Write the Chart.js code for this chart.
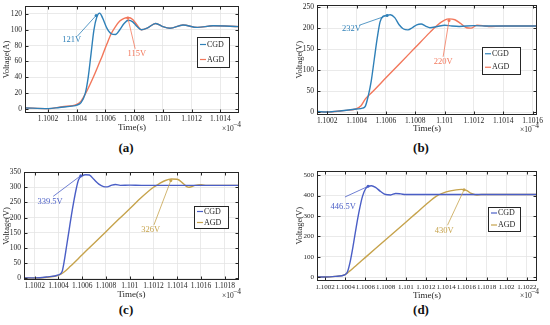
<!DOCTYPE html>
<html>
<head>
<meta charset="utf-8">
<script src="https://cdn.jsdelivr.net/npm/chart.js@4.4.0/dist/chart.umd.min.js"></script>
<style>
  body { margin: 0; background: #fff; width: 550px; height: 325px; position: relative; overflow: hidden; }
  canvas { position: absolute; }
  .tag { position: absolute; font: bold 13px "Liberation Serif", serif; color: #111; transform: translate(-50%, -50%); }
</style>
</head>
<body>
<canvas id="chartA" width="275" height="140" style="left:0;top:0"></canvas>
<canvas id="chartB" width="260" height="140" style="left:290px;top:0"></canvas>
<canvas id="chartC" width="275" height="140" style="left:0;top:162px"></canvas>
<canvas id="chartD" width="260" height="140" style="left:290px;top:162px"></canvas>
<div class="tag" style="left:126px;top:148px">(a)</div>
<div class="tag" style="left:421px;top:148px">(b)</div>
<div class="tag" style="left:126px;top:310px">(c)</div>
<div class="tag" style="left:421px;top:310px">(d)</div>
<script>
// ---- donnees (temps en 1e-4 s) ----
// (a)
const tCgdA = [1.10004, 1.1002, 1.10028, 1.10038, 1.1004, 1.10043, 1.10046, 1.10048, 1.1005, 1.10052, 1.10054, 1.10056, 1.10058, 1.10061, 1.10064, 1.10067, 1.1007, 1.10073, 1.10076, 1.10079, 1.10082, 1.10085, 1.10089, 1.10095, 1.101, 1.10105, 1.10114, 1.10124, 1.10135, 1.10153];
const vCgdA = [1.5, 0.5, 2, 4, 5, 8, 20, 40, 70, 100, 116, 121, 115, 102, 95, 94, 100, 108, 112, 110, 104, 100, 102, 108, 104, 102, 106, 103, 105, 104];
const tAgdA = [1.10004, 1.1002, 1.1003, 1.1004, 1.10043, 1.10046, 1.10049, 1.10052, 1.10055, 1.10058, 1.10061, 1.10064, 1.10067, 1.1007, 1.10073, 1.10076, 1.10079, 1.10082, 1.10085, 1.10089, 1.10095, 1.101, 1.10105, 1.10114, 1.10124, 1.10135, 1.10153];
const vAgdA = [1.5, 0.5, 3, 6, 10, 19, 30, 42, 55, 68, 82, 95, 104, 111, 114.5, 115.5, 113, 106, 100, 102, 108, 104, 102, 106, 103, 105, 104];
// (b)
const tCgdB = [1.10013, 1.1002, 1.1003, 1.1004, 1.10044, 1.10046, 1.10048, 1.1005, 1.10052, 1.10054, 1.10056, 1.10058, 1.1006, 1.10063, 1.10066, 1.10069, 1.10072, 1.10075, 1.10078, 1.10081, 1.10084, 1.10087, 1.1009, 1.10095, 1.101, 1.10105, 1.1011, 1.1012, 1.1013, 1.10163];
const vCgdB = [2, 1, 4, 8, 10, 15, 40, 75, 125, 175, 215, 228, 230, 232, 225, 208, 198, 196, 201, 208, 210, 205, 201, 204, 207, 205, 204, 206, 205, 205];
const tAgdB = [1.10013, 1.1002, 1.1003, 1.1004, 1.10043, 1.10046, 1.1005, 1.1006, 1.1007, 1.1008, 1.1009, 1.10095, 1.101, 1.10103, 1.10107, 1.10111, 1.10115, 1.10118, 1.10122, 1.10126, 1.1013, 1.1014, 1.10163];
const vAgdB = [2, 1, 4, 9, 16, 32, 46, 82, 118, 154, 190, 207, 219, 222, 220, 211, 201, 200, 207, 206, 204, 205, 205];
// (c)
const tCgdC = [1.10011, 1.1002, 1.1003, 1.1004, 1.10043, 1.10045, 1.10047, 1.10049, 1.10051, 1.10053, 1.10055, 1.10057, 1.1006, 1.10063, 1.10066, 1.1007, 1.10074, 1.10078, 1.10081, 1.10085, 1.10088, 1.10092, 1.101, 1.1011, 1.10192];
const vCgdC = [2, 2, 5, 12, 22, 60, 110, 160, 210, 255, 295, 325, 337, 341, 340, 325, 310, 302, 301, 307, 309, 306, 307, 306, 306];
const tAgdC = [1.10011, 1.1002, 1.1003, 1.1004, 1.10042, 1.10045, 1.1005, 1.1006, 1.1007, 1.1008, 1.1009, 1.101, 1.1011, 1.1012, 1.10125, 1.1013, 1.10135, 1.1014, 1.10145, 1.10148, 1.1015, 1.10155, 1.1016, 1.10165, 1.10192];
const vAgdC = [2, 1, 4, 10, 14, 22, 40, 78, 116, 154, 192, 229, 267, 300, 312, 322, 327, 326, 312, 302, 300, 306, 308, 306, 306];
// (d)
const tCgdD = [1.10012, 1.1002, 1.1003, 1.1004, 1.10042, 1.10045, 1.10048, 1.10051, 1.10054, 1.10057, 1.1006, 1.10063, 1.10066, 1.1007, 1.10075, 1.1008, 1.10085, 1.1009, 1.10095, 1.101, 1.1023];
const vCgdD = [2, 2, 5, 14, 25, 80, 160, 250, 330, 395, 432, 445, 448, 440, 420, 405, 403, 410, 408, 405, 405];
const tAgdD = [1.10012, 1.1002, 1.1003, 1.1004, 1.10043, 1.1005, 1.1006, 1.1007, 1.1008, 1.1009, 1.101, 1.1011, 1.1012, 1.1013, 1.1014, 1.1015, 1.10155, 1.1016, 1.10165, 1.1017, 1.10175, 1.1023];
const vAgdD = [2, 2, 5, 14, 25, 55, 98, 141, 184, 227, 270, 313, 356, 396, 418, 428, 430, 425, 410, 403, 405, 405];

// graduations
const xTicksAB = [1.1002, 1.1004, 1.1006, 1.1008, 1.101, 1.1012, 1.1014, 1.1016];
const xLabelsAB = ['1.1002', '1.1004', '1.1006', '1.1008', '1.101', '1.1012', '1.1014', '1.1016'];
const xTicksC = [1.1002, 1.1004, 1.1006, 1.1008, 1.101, 1.1012, 1.1014, 1.1016, 1.1018];
const xLabelsC = ['1.1002', '1.1004', '1.1006', '1.1008', '1.101', '1.1012', '1.1014', '1.1016', '1.1018'];
const xTicksD = [1.1002, 1.1004, 1.1006, 1.1008, 1.101, 1.1012, 1.1014, 1.1016, 1.1018, 1.102, 1.1022];
const xLabelsD = ['1.1002', '1.1004', '1.1006', '1.1008', '1.101', '1.1012', '1.1014', '1.1016', '1.1018', '1.102', '1.1022'];
const yTicksA = [0, 20, 40, 60, 80, 100, 120];
const yTicksB = [0, 50, 100, 150, 200, 250];
const yTicksC = [0, 50, 100, 150, 200, 250, 300, 350];
const yTicksD = [0, 100, 200, 300, 400, 500];

const serif = '"Liberation Serif", "Times New Roman", serif';
const ink = '#262626';

function pts(t, v) {
  return t.map((x, i) => ({ x: x, y: v[i] }));
}

// cadre MATLAB : boite + graduations vers l'interieur
const matlabBox = {
  id: 'matlabBox',
  afterDatasetsDraw(chart) {
    const { ctx, chartArea: a, scales } = chart;
    ctx.save();
    ctx.strokeStyle = ink;
    ctx.lineWidth = 1;
    const l = Math.round(a.left) + 0.5, r = Math.round(a.right) - 0.5;
    const t = Math.round(a.top) + 0.5, b = Math.round(a.bottom) - 0.5;
    ctx.strokeRect(l, t, r - l, b - t);
    ctx.beginPath();
    scales.x.ticks.forEach(tk => {
      const px = Math.round(scales.x.getPixelForValue(tk.value)) + 0.5;
      ctx.moveTo(px, b); ctx.lineTo(px, b - 3);
      ctx.moveTo(px, t); ctx.lineTo(px, t + 3);
    });
    scales.y.ticks.forEach(tk => {
      const py = Math.round(scales.y.getPixelForValue(tk.value)) + 0.5;
      ctx.moveTo(l, py); ctx.lineTo(l + 3, py);
      ctx.moveTo(r, py); ctx.lineTo(r - 3, py);
    });
    ctx.stroke();
    ctx.restore();
  },
  afterDraw(chart) {
    // x10^-4
    const { ctx, chartArea: a } = chart;
    ctx.save();
    ctx.fillStyle = ink;
    ctx.textBaseline = 'middle';
    ctx.font = '7.5px ' + serif;
    ctx.fillText('\u00d710', a.right - 17, a.bottom + 16);
    ctx.fillText('\u22124', a.right - 6, a.bottom + 12);
    ctx.restore();
  }
};

// fleches et valeurs de pic
const peakNotes = {
  id: 'peakNotes',
  afterDatasetsDraw(chart, args, opts) {
    const { ctx, scales: { x, y } } = chart;
    ctx.save();
    (opts.notes || []).forEach(n => {
      const mx = x.getPixelForValue(n.px), my = y.getPixelForValue(n.py);
      const sx = x.getPixelForValue(n.lx), sy = y.getPixelForValue(n.ly);
      ctx.strokeStyle = n.color;
      ctx.lineWidth = 0.8;
      ctx.beginPath();
      ctx.moveTo(sx, sy); ctx.lineTo(mx, my);
      ctx.stroke();
      ctx.fillStyle = n.color;
      ctx.beginPath();
      ctx.arc(mx, my, 1.5, 0, Math.PI * 2);
      ctx.fill();
      ctx.font = '8.5px ' + serif;
      ctx.textAlign = 'center';
      ctx.textBaseline = 'middle';
      ctx.fillText(n.text, x.getPixelForValue(n.tx), y.getPixelForValue(n.ty));
    });
    ctx.restore();
  }
};

// legende encadree dans la zone de trace
const boxLegend = {
  id: 'boxLegend',
  afterDraw(chart, args, opts) {
    const { ctx, chartArea: a } = chart;
    const x0 = a.right - opts.right - opts.w, y0 = a.top + opts.top;
    ctx.save();
    ctx.fillStyle = '#fff';
    ctx.fillRect(x0, y0, opts.w, opts.h);
    ctx.strokeStyle = ink;
    ctx.lineWidth = 1;
    ctx.strokeRect(Math.round(x0) + 0.5, Math.round(y0) + 0.5, opts.w, opts.h);
    const n = chart.data.datasets.length;
    chart.data.datasets.forEach((ds, i) => {
      const yy = y0 + opts.h * (i + 0.5) / n;
      ctx.strokeStyle = ds.borderColor;
      ctx.lineWidth = 1.2;
      ctx.beginPath();
      ctx.moveTo(x0 + 3, yy); ctx.lineTo(x0 + 9, yy);
      ctx.stroke();
      ctx.fillStyle = ink;
      ctx.font = '8px ' + serif;
      ctx.textBaseline = 'middle';
      ctx.fillText(ds.label, x0 + 10, yy);
    });
    ctx.restore();
  }
};

function makeChart(id, cfg) {
  const font = { family: serif, size: cfg.fs || 7.5 };
  const grid = { color: '#e4e4e4', lineWidth: 0.8, drawTicks: false };
  return new Chart(document.getElementById(id), {
    type: 'line',
    data: {
      datasets: [
        { label: 'CGD', data: pts(cfg.tCgd, cfg.vCgd), borderColor: cfg.c1 },
        { label: 'AGD', data: pts(cfg.tAgd, cfg.vAgd), borderColor: cfg.c2 }
      ]
    },
    options: {
      responsive: false,
      animation: false,
      events: [],
      datasets: {
        line: { borderWidth: 1.4, pointRadius: 0, fill: false, cubicInterpolationMode: 'monotone' }
      },
      layout: { padding: { left: 0, top: cfg.padT, right: cfg.padR, bottom: cfg.padB } },
      scales: {
        x: {
          type: 'linear',
          min: cfg.xMin,
          max: cfg.xMax,
          afterBuildTicks: s => { s.ticks = cfg.xTicks.map(v => ({ value: v })); },
          afterFit: s => { s.height = cfg.xh; s.paddingLeft = 0; s.paddingRight = 0; },
          ticks: {
            autoSkip: false, maxRotation: 0, padding: 2, font: font, color: ink,
            callback: (v, i) => cfg.xLabels[i]
          },
          grid: grid,
          border: { display: false },
          title: { display: true, text: 'Time(s)', font: { family: serif, size: 9 }, color: ink, padding: 0 }
        },
        y: {
          min: cfg.yMin,
          max: cfg.yMax,
          afterBuildTicks: s => { s.ticks = cfg.yTicks.map(v => ({ value: v })); },
          afterFit: s => { s.width = cfg.yw; s.paddingTop = 0; s.paddingBottom = 0; },
          ticks: { padding: 3, font: font, color: ink },
          grid: grid,
          border: { display: false },
          title: { display: true, text: cfg.yTitle, font: { family: serif, size: 8.5 }, color: ink, padding: { top: cfg.ytp, bottom: 0 } }
        }
      },
      plugins: {
        legend: { display: false },
        tooltip: { enabled: false },
        peakNotes: { notes: cfg.notes },
        boxLegend: cfg.legend
      }
    },
    plugins: [matlabBox, peakNotes, boxLegend]
  });
}

const blueAB = '#2f80b8', redAB = '#f2775b';
const blueCD = '#4a5ec6', goldCD = '#c6a34c';

makeChart('chartA', {
  tCgd: tCgdA, vCgd: vCgdA, tAgd: tAgdA, vAgd: vAgdA, c1: blueAB, c2: redAB,
  xMin: 1.10004, xMax: 1.10153, xTicks: xTicksAB.slice(0, 7), xLabels: xLabelsAB,
  yMin: -5, yMax: 130, yTicks: yTicksA, yTitle: 'Voltage(A)',
  padT: 6, padR: 36, padB: 7, xh: 20, yw: 25, ytp: 1.5,
  legend: { right: 10, top: 31, w: 32, h: 30 },
  notes: [
    { text: '121V', color: blueAB, px: 1.100535, py: 118, lx: 1.100405, ly: 92, tx: 1.100365, ty: 87 },
    { text: '115V', color: redAB, px: 1.100756, py: 115, lx: 1.100807, ly: 76, tx: 1.100819, ty: 70 }
  ]
});

makeChart('chartB', {
  tCgd: tCgdB, vCgd: vCgdB, tAgd: tAgdB, vAgd: vAgdB, c1: blueAB, c2: redAB,
  xMin: 1.10013, xMax: 1.10163, xTicks: xTicksAB, xLabels: xLabelsAB,
  yMin: -5, yMax: 255, yTicks: yTicksB, yTitle: 'Voltage(V)',
  padT: 5, padR: 13, padB: 5.5, xh: 20, yw: 27, ytp: 4.6,
  legend: { right: 17, top: 42, w: 38, h: 27 },
  notes: [
    { text: '232V', color: blueAB, px: 1.100608, py: 230, lx: 1.100419, ly: 207, tx: 1.100365, ty: 199 },
    { text: '220V', color: redAB, px: 1.10103, py: 218, lx: 1.10099, ly: 132, tx: 1.10099, ty: 120 }
  ]
});

makeChart('chartC', {
  tCgd: tCgdC, vCgd: vCgdC, tAgd: tAgdC, vAgd: vAgdC, c1: blueCD, c2: goldCD,
  xMin: 1.10011, xMax: 1.10192, xTicks: xTicksC, xLabels: xLabelsC,
  yMin: -5, yMax: 350, yTicks: yTicksC, yTitle: 'Voltage(V)',
  padT: 10, padR: 36, padB: 2, xh: 20, yw: 24, ytp: 1.5,
  legend: { right: 11, top: 34, w: 34, h: 22 },
  notes: [
    { text: '339.5V', color: blueCD, px: 1.100588, py: 338, lx: 1.100356, ly: 270, tx: 1.100329, ty: 253 },
    { text: '326V', color: goldCD, px: 1.101346, py: 322, lx: 1.101204, ly: 176, tx: 1.101177, ty: 160 }
  ]
});

makeChart('chartD', {
  tCgd: tCgdD, vCgd: vCgdD, tAgd: tAgdD, vAgd: vAgdD, c1: blueCD, c2: goldCD,
  xMin: 1.10012, xMax: 1.1023, xTicks: xTicksD, xLabels: xLabelsD, fs: 7,
  yMin: -15, yMax: 520, yTicks: yTicksD, yTitle: 'Voltage(V)',
  padT: 9, padR: 13, padB: 0.5, xh: 21, yw: 27, ytp: 4.6,
  legend: { right: 17, top: 36, w: 32, h: 24 },
  notes: [
    { text: '446.5V', color: blueCD, px: 1.100626, py: 445, lx: 1.100397, ly: 393, tx: 1.10038, ty: 347 },
    { text: '430V', color: goldCD, px: 1.101577, py: 428, lx: 1.101413, ly: 255, tx: 1.10138, ty: 230 }
  ]
});
</script>
</body>
</html>
